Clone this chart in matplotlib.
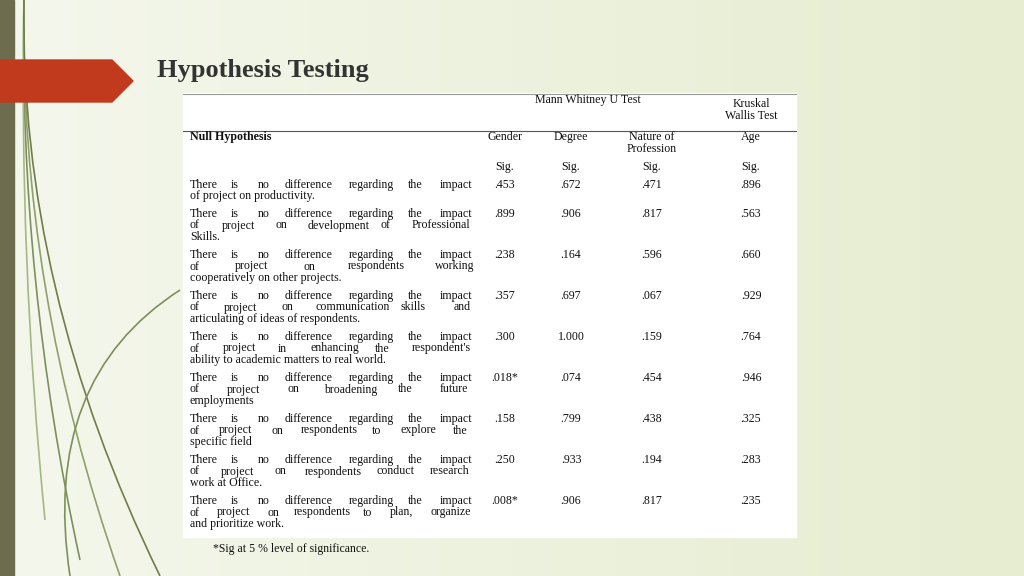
import numpy as np
from matplotlib import pyplot as plt
from matplotlib.patches import Rectangle, Polygon
from matplotlib.path import Path
from matplotlib.patches import PathPatch

# slide table data
hypotheses = [
    "There is no difference regarding the impact\nof project on productivity.",
    "There is no difference regarding the impact\nof project on development of Professional\nSkills.",
    "There is no difference regarding the impact\nof    project    on    respondents    working\ncooperatively on other projects.",
    "There is no difference regarding the impact\nof project on communication skills and\narticulating of ideas of respondents.",
    "There is no difference regarding the impact\nof project in enhancing the respondent's\nability to academic matters to real world.",
    "There is no difference regarding the impact\nof    project    on    broadening    the    future\nemployments",
    "There is no difference regarding the impact\nof project on respondents to explore the\nspecific field",
    "There is no difference regarding the impact\nof project on respondents conduct research\nwork at Office.",
    "There is no difference regarding the impact\nof project on respondents to plan, organize\nand prioritize work.",
]
gender = [".453", ".899", ".238", ".357", ".300", ".018*", ".158", ".250", ".008*"]
degree = [".672", ".906", ".164", ".697", "1.000", ".074", ".799", ".933", ".906"]
profession = [".471", ".817", ".596", ".067", ".159", ".454", ".438", ".194", ".817"]
age = [".896", ".563", ".660", ".929", ".764", ".946", ".325", ".283", ".235"]
columns = ["Gender", "Degree", "Nature of\nProfession", "Age"]

fig = plt.figure(figsize=(10.24, 5.76), dpi=100)
ax = fig.add_axes([0, 0, 1, 1])
ax.set_xlim(0, 1024)
ax.set_ylim(576, 0)
ax.axis('off')

# background gradient
grad = np.outer(np.ones(64), np.linspace(0, 1, 256))
ax.imshow(grad, extent=[0, 1024, 576, 0], cmap=plt.matplotlib.colors.LinearSegmentedColormap.from_list(
    'bg', ['#f4f7ec', '#e6edd0']), aspect='auto', zorder=0)

# left decoration
ax.add_patch(Rectangle((0, 0), 14, 576, color='#6e6c4e', zorder=1))
for (x0, x1, y0, c) in [(14, 120, 576, '#8fa06a'), (14, 80, 560, '#7e8f5a'), (14, 45, 520, '#a6b783'), (14, 160, 576, '#6f7d47')]:
    verts = [(x0 + 10, 0), (x0 + 5, y0 * 0.5), (x1, y0)]
    ax.add_patch(PathPatch(Path(verts, [Path.MOVETO, Path.CURVE3, Path.CURVE3]), fill=False, ec=c, lw=1.2, zorder=1))
verts = [(180, 290), (40, 380), (70, 576)]
ax.add_patch(PathPatch(Path(verts, [Path.MOVETO, Path.CURVE3, Path.CURVE3]), fill=False, ec='#7e8f5a', lw=1.2, zorder=1))
ax.add_patch(Polygon([(0, 60), (112, 60), (133, 81), (112, 102), (0, 102)], color='#c23a1e', zorder=2))

ax.text(157, 71, "Hypothesis Testing", fontsize=19, fontweight='bold', family='Liberation Serif',
        color='#333333', va='center')

# table
ax.add_patch(Rectangle((183, 93), 613, 444, color='white', zorder=2))
ax.plot([183, 796], [94, 94], color='#999999', lw=0.8, zorder=3)
ax.plot([183, 796], [131, 131], color='#555555', lw=0.8, zorder=3)
tk = dict(family='Liberation Serif', fontsize=8.6, color='#111111', zorder=4)
ax.text(588, 100, "Mann Whitney U Test", ha='center', va='center', **tk)
ax.text(751, 98, "Kruskal\nWallis Test", ha='center', va='top', linespacing=1.0, **tk)
ax.text(190, 137, "Null Hypothesis", ha='left', va='center', fontweight='bold', **tk)
col_x = [505, 571, 652, 751]
for cx, name in zip(col_x, columns):
    ax.text(cx, 131 if '\n' in name else 137, name, ha='center',
            va='top' if '\n' in name else 'center', linespacing=1.0, **tk)
    ax.text(cx, 167, "Sig.", ha='center', va='center', **tk)

row_y = [185, 214, 255, 296, 337, 378, 419, 460, 501]
for i, y in enumerate(row_y):
    lines = hypotheses[i].split("\n")
    for j, line in enumerate(lines):
        t = ax.text(190, y + 11.5 * j, line, ha='left', va='center', **tk)
        # stretch the first full line to the column width like the slide
        if j < len(lines) - 1 or i == 0 and j == 0:
            words = line.split()
            if len(words) > 1:
                t.set_text("")
                xs = np.linspace(190, 467, len(words) + 1)
                # spread words evenly between the margins
                widths = np.array([len(w) for w in words], float)
                gap = (277 - widths.sum() * 4.6) / (len(words) - 1)
                x = 190
                for w, wl in zip(words, widths):
                    ax.text(x, y + 11.5 * j, w, ha='left', va='center', **tk)
                    x += wl * 4.6 + gap
    for cx, vals in zip(col_x, [gender, degree, profession, age]):
        ax.text(cx, y, vals[i], ha='center', va='center', **tk)

ax.text(213, 549, "*Sig at 5 % level of significance.", fontsize=8.5, family='Liberation Serif',
        color='#111111', va='center')

fig.savefig("out.png", dpi=100)
